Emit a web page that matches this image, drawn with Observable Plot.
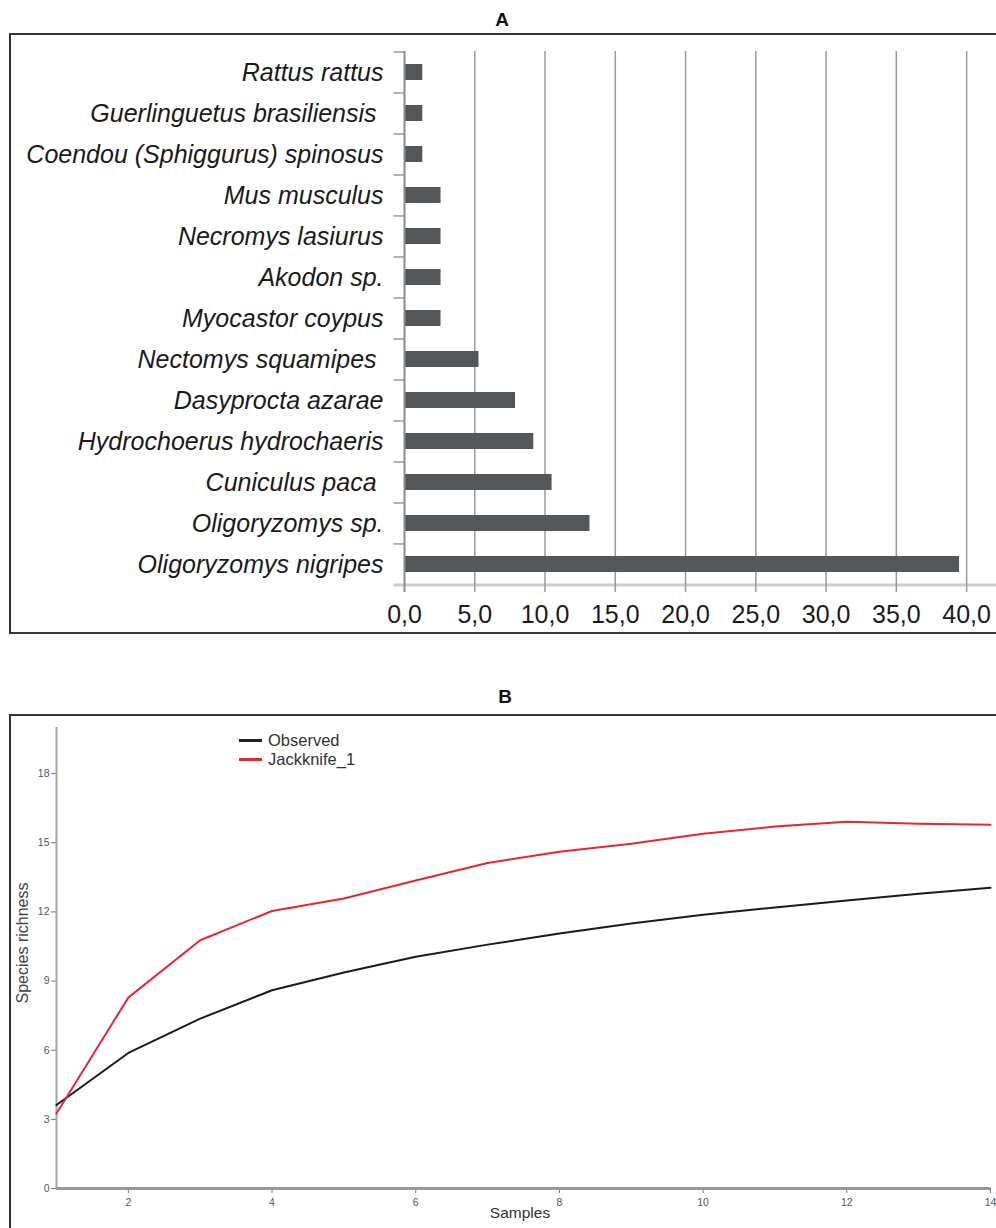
<!DOCTYPE html>
<html>
<head>
<meta charset="utf-8">
<script src="https://cdn.jsdelivr.net/npm/d3@7"></script>
<script src="https://cdn.jsdelivr.net/npm/@observablehq/plot@0.6"></script>
<style>
  body { margin: 0; background: #fff; }
  #root { position: relative; width: 996px; height: 1228px; overflow: hidden; background: #fff;
          font-family: "Liberation Sans", Arial, sans-serif; }
  .abs { position: absolute; }
  .box { position: absolute; border: 2px solid #333; pointer-events: none; background: transparent; }
  .ctr { position: absolute; transform: translate(-50%, -50%); white-space: nowrap; }
  .narrow { font-family: "Liberation Sans Narrow", "Arial Narrow", "Liberation Sans", Arial, sans-serif; }
  .ttl { font-weight: bold; font-size: 19px; color: #111; }
  #chartA text { font-size: 25px; fill: #1a1a1a; }
  #chartA [aria-label^="y-axis"] text { font-style: italic; }
  #chartB text { font-size: 10.5px; fill: #555; font-family: "Liberation Sans Narrow", "Liberation Sans", Arial, sans-serif; }
  .leg { position: absolute; font-size: 16.5px; color: #333; line-height: 17px; white-space: nowrap; }
  .sw { position: absolute; height: 3px; width: 23px; }
</style>
</head>
<body>
<div id="root">
  <div id="chartA" class="abs" style="left:0;top:33px"></div>
  <div id="chartB" class="abs" style="left:0;top:715px"></div>

  <div class="ctr narrow ttl" style="left:502px;top:20px">A</div>
  <div class="box" style="left:9px;top:33px;width:1000px;height:597px"></div>

  <div class="ctr narrow ttl" style="left:505px;top:697px">B</div>
  <div class="box" style="left:9px;top:714px;width:1000px;height:600px"></div>

  <div class="sw" style="left:239px;top:739px;background:#222"></div>
  <div class="leg" style="left:268px;top:732px">Observed</div>
  <div class="sw" style="left:239px;top:758px;background:#e8262b"></div>
  <div class="leg" style="left:268px;top:751px">Jackknife_1</div>

  <div class="ctr" style="left:23px;top:943px;font-size:16px;color:#444;transform:translate(-50%,-50%) rotate(-90deg)">Species richness</div>
  <div class="ctr" style="left:520px;top:1213px;font-size:15.5px;color:#333">Samples</div>
</div>

<script>
// ---------- Panel A data ----------
const species = [
  "Rattus rattus",
  "Guerlinguetus brasiliensis\u00a0",
  "Coendou (Sphiggurus) spinosus",
  "Mus musculus",
  "Necromys lasiurus",
  "Akodon sp.",
  "Myocastor coypus",
  "Nectomys squamipes\u00a0",
  "Dasyprocta azarae",
  "Hydrochoerus hydrochaeris",
  "Cuniculus paca\u00a0",
  "Oligoryzomys sp.",
  "Oligoryzomys nigripes"
];
const percent = [1.3, 1.3, 1.3, 2.6, 2.6, 2.6, 2.6, 5.3, 7.9, 9.2, 10.5, 13.2, 39.5];
const xTicksA = [0, 5, 10, 15, 20, 25, 30, 35, 40];
const xTickLabelsA = ["0,0", "5,0", "10,0", "15,0", "20,0", "25,0", "30,0", "35,0", "40,0"];

// ---------- Panel B data ----------
const samples = [1, 2, 3, 4, 5, 6, 7, 8, 9, 10, 11, 12, 13, 14];
const observed = [3.62, 5.88, 7.37, 8.6, 9.37, 10.05, 10.58, 11.06, 11.5, 11.88, 12.19, 12.49, 12.79, 13.05];
const jackknife = [3.25, 8.28, 10.77, 12.04, 12.58, 13.36, 14.12, 14.61, 14.96, 15.39, 15.7, 15.91, 15.82, 15.78];
const xTicksB = [2, 4, 6, 8, 10, 12, 14];
const yTicksB = [0, 3, 6, 9, 12, 15, 18];

// ---------- Panel A ----------
const dataA = species.map((s, i) => ({species: s, value: percent[i]}));
const labelA = new Map(xTicksA.map((t, i) => [t, xTickLabelsA[i]]));
const halfStep = (552 - 18) / species.length / 2;

const chartA = Plot.plot({
  width: 996,
  height: 598,
  marginLeft: 404,
  marginRight: 6,
  marginTop: 18,
  marginBottom: 46,
  style: {background: "transparent", fontFamily: "'Liberation Sans', Arial, sans-serif", fontSize: "25px", color: "#1a1a1a"},
  x: {domain: [0, 41.7], ticks: xTicksA, tickFormat: d => labelA.get(d), tickSize: 0, tickPadding: 20, label: null},
  y: {domain: species, paddingInner: 0.6, paddingOuter: 0.3, tickSize: 0, tickPadding: 21, label: null},
  marks: [
    Plot.ruleY([species[species.length - 1]], {x1: -0.75, x2: 43, dy: halfStep, stroke: "#cdcdcd", strokeWidth: 3}),
    Plot.ruleX(xTicksA.slice(1), {stroke: "#9a9a9a", strokeWidth: 1.5, insetBottom: -7}),
    Plot.ruleY(species, {x1: -0.75, x2: 0, dy: -halfStep, stroke: "#9a9a9a", strokeWidth: 1.5}),
    Plot.barX(dataA, {x: "value", y: "species", fill: "#53575a"}),
    Plot.ruleX([0], {stroke: "#8a8a8a", strokeWidth: 2, insetBottom: -7})
  ]
});
document.getElementById("chartA").appendChild(chartA);

// ---------- Panel B ----------
const dataB = [
  ...samples.map((s, i) => ({sample: s, value: observed[i], series: "Observed"})),
  ...samples.map((s, i) => ({sample: s, value: jackknife[i], series: "Jackknife_1"}))
];

const chartB = Plot.plot({
  width: 996,
  height: 513,
  marginLeft: 56,
  marginRight: 6,
  marginTop: 12,
  marginBottom: 40,
  style: {background: "transparent", fontFamily: "'Liberation Sans', Arial, sans-serif", fontSize: "10.5px", color: "#777"},
  x: {domain: [1, 14], ticks: xTicksB, tickSize: 5, tickPadding: 5, label: null},
  y: {domain: [0, 20], ticks: yTicksB, tickSize: 5, tickPadding: 2, label: null},
  color: {domain: ["Observed", "Jackknife_1"], range: ["#1a1a1a", "#e8262b"]},
  marks: [
    Plot.ruleX([1], {stroke: "#a3a3a3", strokeWidth: 2}),
    Plot.ruleY([0], {stroke: "#999", strokeWidth: 3}),
    Plot.line(dataB, {x: "sample", y: "value", z: "series", stroke: "series", strokeWidth: 2})
  ]
});
document.getElementById("chartB").appendChild(chartB);
</script>
</body>
</html>
